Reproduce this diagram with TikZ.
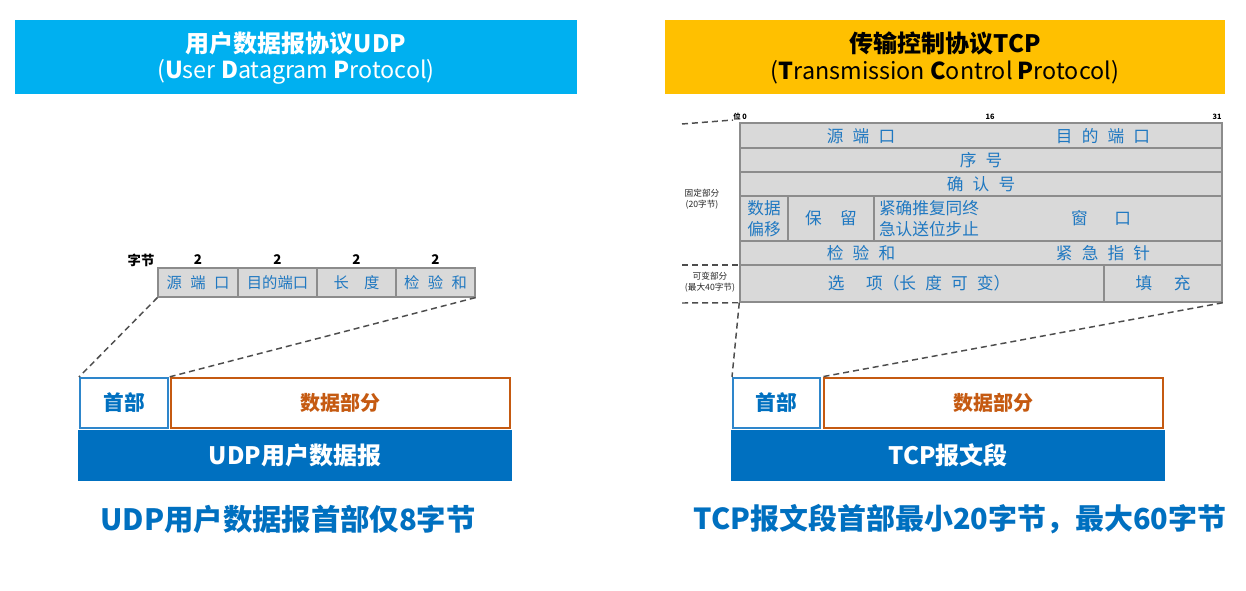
\documentclass[tikz,border=0pt]{standalone}
\usepackage{fontspec}
\setmainfont{Noto Sans CJK SC}
\usetikzlibrary{fit}
\definecolor{hcyan}{HTML}{00B0F0}
\definecolor{hyellow}{HTML}{FFC000}
\definecolor{dblue}{HTML}{0070C0}
\definecolor{lblue}{HTML}{2E86CB}
\definecolor{orng}{HTML}{C55A11}
\definecolor{cellgray}{HTML}{D9D9D9}
\definecolor{linegray}{HTML}{8C8C8C}
\definecolor{dashgray}{HTML}{4D4D4D}
\definecolor{tblue}{HTML}{1F78C1}
\newcommand\kk{\hspace{0.55em}}
\begin{document}
\begin{tikzpicture}[x=0.75pt,y=-0.75pt,
  box/.style={inner sep=0pt},
  hdr/.style={inner sep=0pt, align=center, font={\fontsize{17.5}{22}\selectfont}},
  cell/.style={draw=linegray, fill=cellgray, line width=0.9pt, inner sep=0pt},
  ctxt/.style={inner sep=0pt, text=tblue, font={\fontsize{11.5}{13}\selectfont}},
  ttxt/.style={inner sep=0pt, text=tblue, font={\fontsize{12.5}{15}\selectfont}, align=center},
  small/.style={inner sep=0pt, font={\fontsize{6.5}{8}\selectfont}, text=black!85},
  bits/.style={inner sep=0pt, font={\fontsize{5.5}{6}\selectfont\bfseries}},
  bytes/.style={inner sep=0pt, font={\fontsize{10}{12}\selectfont\bfseries}},
  hbox/.style={draw=lblue, line width=1.5pt, fill=white, inner sep=0pt},
  htxt/.style={inner sep=0pt, text=dblue, font={\fontsize{15.5}{18}\selectfont\bfseries}},
  dbox/.style={draw=orng, line width=2pt, fill=white, inner sep=0pt},
  dtxt/.style={inner sep=0pt, text=orng, font={\fontsize{15}{18}\selectfont\bfseries}},
  bar/.style={fill=dblue, inner sep=0pt},
  bartxt/.style={inner sep=0pt, text=white, font={\fontsize{18}{20}\selectfont\bfseries}},
  capt/.style={inner sep=0pt, text=dblue, font={\fontsize{22}{26}\selectfont\bfseries}},
  dline/.style={draw=dashgray, line width=1.1pt, dash pattern=on 4.5pt off 3pt},
  tline/.style={draw=linegray, line width=0.9pt}]
\useasboundingbox[fill=white] (0,0) rectangle (1246,591);

% ---------- headers ----------
\node[box, fill=hcyan, fit={(15,20) (577,94)}] (udph) {};
\node[hdr, text=white] (udpt1) at (296,43) {\fontsize{18}{22}\selectfont\bfseries 用户数据报协议UDP};
\node[hdr, text=white] (udpt2) at (296,72) {(\textbf{U}ser \textbf{D}atagram \textbf{P}rotocol)};
\node[box, fill=hyellow, fit={(665,20) (1225,94)}] (tcph) {};
\node[hdr, text=black] (tcpt1) at (945,43) {\fontsize{18}{22}\selectfont\bfseries 传输控制协议TCP};
\node[hdr, text=black] (tcpt2) at (945,72) {(\textbf{T}ransmission \textbf{C}ontrol \textbf{P}rotocol)};

% ---------- UDP header table ----------
\node[cell, fit={(158,268) (238,297)}] (u1) {};
\node[cell, fit={(238,268) (317,297)}] (u2) {};
\node[cell, fit={(317,268) (396,297)}] (u3) {};
\node[cell, fit={(396,268) (475,297)}] (u4) {};
\node[ctxt] (u1t) at (u1.center) {源\kk 端\kk 口};
\node[ctxt] (u2t) at (u2.center) {目的端口};
\node[ctxt] (u3t) at (u3.center) {长\hspace{1em}度};
\node[ctxt] (u4t) at (u4.center) {检\kk 验\kk 和};
\node[bytes] (ub0) at (141,260) {字节};
\node[bytes] (ub1) at (198,260) {2};
\node[bytes] (ub2) at (277.5,260) {2};
\node[bytes] (ub3) at (356.5,260) {2};
\node[bytes] (ub4) at (435.5,260) {2};

% ---------- UDP datagram ----------
\node[hbox, fit={(80,378) (168,428)}] (uhead) {};
\node[htxt] (uheadt) at (uhead.center) {首部};
\node[dbox, fit={(171,378) (510,428)}] (udata) {};
\node[dtxt] (udatat) at (udata.center) {数据部分};
\node[bar, fit={(78,430) (512,481)}] (ubar) {};
\node[bartxt] (ubart) at (ubar.center) {UDP用户数据报};
\node[capt] (ucap) at (288,519) {UDP用户数据报首部仅8字节};
\draw[dline] (u1.south west) -- (uhead.north west);
\draw[dline] (u4.south east) -- (uhead.north east);

% ---------- TCP header table ----------
\node[draw=linegray, fill=cellgray, line width=1.1pt, inner sep=0pt, fit={(740,123) (1222,302)}] (ttab) {};
\draw[tline] (740,148) -- (1222,148);
\draw[tline] (740,172) -- (1222,172);
\draw[tline] (740,196) -- (1222,196);
\draw[tline] (740,241) -- (1222,241);
\draw[tline, line width=1.2pt] (740,265) -- (1222,265);
\draw[tline, line width=1.2pt] (788,196) -- (788,241);
\draw[tline] (874,196) -- (874,241);
\draw[tline] (1104,265) -- (1104,302);

\node[ttxt] (t1a) at (861,136) {源\kk 端\kk 口};
\node[ttxt] (t1b) at (1103,136) {目\kk 的\kk 端\kk 口};
\node[ttxt] (t2) at (981,160) {序\kk 号};
\node[ttxt] (t3) at (981,184) {确\kk 认\kk 号};
\node[ttxt, font={\fontsize{12.5}{16}\selectfont}] (t4a) at (764,218.5) {数据\\偏移};
\node[ttxt] (t4b) at (831,218.5) {保\hspace{1.1em}留};
\node[ttxt, font={\fontsize{12.5}{16}\selectfont}] (t4c) at (929,218.5) {紧确推复同终\\急认送位步止};
\node[ttxt] (t4d) at (1101,218.5) {窗\hspace{1.6em}口};
\node[ttxt] (t5a) at (861,253) {检\kk 验\kk 和};
\node[ttxt] (t5b) at (1103,253) {紧\kk 急\kk 指\kk 针};
\node[ttxt] (t6a) at (919,283.5) {选\hspace{1.3em}项（长\kk 度\kk 可\kk 变）};
\node[ttxt] (t6b) at (1163,283.5) {填\hspace{1.3em}充};

\node[bits, anchor=south] (b0) at (740,120) {位 0};
\node[bits, anchor=south] (b16) at (990,120) {16};
\node[bits, anchor=south] (b31) at (1217,120) {31};

\node[small, align=center] (fixlab) at (702,199) {固定部分\\(20字节)};
\node[small, align=center] (varlab) at (710,282) {可变部分\\(最大40字节)};

\coordinate (d1) at (682,124);
\coordinate (d2) at (682,265);
\coordinate (d3) at (682,303);
\draw[dline] (d1) -- (b0.south west);
\draw[dline] (d2) -- (ttab.west |- d2);
\draw[dline] (d3) -- (ttab.south west);

% ---------- TCP segment ----------
\node[hbox, fit={(733,378) (820,428)}] (thead) {};
\node[htxt] (theadt) at (thead.center) {首部};
\node[dbox, fit={(824,378) (1163,428)}] (tdata) {};
\node[dtxt] (tdatat) at (tdata.center) {数据部分};
\node[bar, fit={(731,430) (1165,481)}] (tbar) {};
\node[bartxt] (tbart) at (tbar.center) {TCP报文段};
\node[capt, font={\fontsize{21.7}{26}\selectfont\bfseries}] (tcap) at (960,519) {TCP报文段首部最小20字节，最大60字节};
\draw[dline] (ttab.south west) -- (thead.north west);
\draw[dline] (ttab.south east) -- (thead.north east);
\end{tikzpicture}
\end{document}
